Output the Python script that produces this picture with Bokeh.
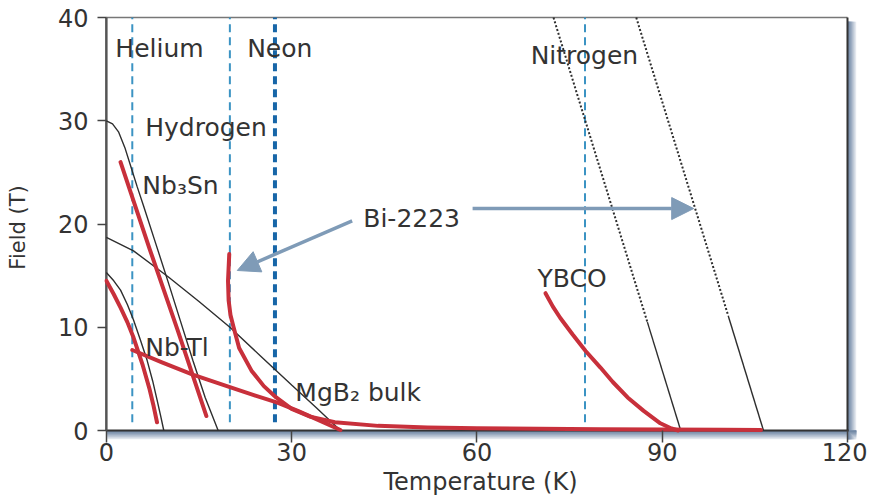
import math
from bokeh.plotting import figure
from bokeh.models import Range1d, Arrow, NormalHead, FixedTicker, Label
from bokeh.embed import file_html
from bokeh.resources import INLINE

# ---------------- data ----------------
X_TICKS = [0, 30, 60, 90, 120]
Y_TICKS = [0, 10, 20, 30, 40]
X_MIN, X_MAX = 0, 120
Y_MIN, Y_MAX = 0, 40

# cryogen boiling temperatures (K)
CRYO_NAMES = ["Helium", "Hydrogen", "Neon", "Nitrogen"]
CRYO_T = [4.2, 20.0, 27.3, 77.5]
CRYO_B_START = 0.8

# upper critical field (thin black)
nb3sn_hc2_T = [0, 1, 2, 3, 4, 5, 6, 8, 10, 12, 14, 16, 18.1]
nb3sn_hc2_B = [30, 29.7, 28.9, 27.4, 25.5, 23.6, 21.8, 18.1, 14.4, 10.6, 6.8, 3.2, 0]

nbti_hc2_T = [0, 1.2, 2.3, 3.4, 4.4, 5.5, 6.6, 7.5, 8.2, 8.8, 9.3]
nbti_hc2_B = [15.3, 14.5, 13.6, 12.2, 10.7, 8.8, 6.8, 4.8, 3.0, 1.4, 0]

mgb2_hc2_T = [0, 4.4, 10, 15, 20, 25, 30, 34, 37.9]
mgb2_hc2_B = [18.7, 17.4, 14.9, 12.5, 10.0, 7.2, 4.4, 2.2, 0]

ybco_hc2_dot_T = [72.4, 87.6]
ybco_hc2_dot_B = [40, 10.5]
ybco_hc2_T = [87.6, 93.0]
ybco_hc2_B = [10.5, 0]

bi_hc2_dot_T = [85.8, 100.7]
bi_hc2_dot_B = [40, 11.1]
bi_hc2_T = [100.7, 106.4]
bi_hc2_B = [11.1, 0]

# irreversibility field (thick red)
nb3sn_irr_T = [2.3, 7.0, 11.5, 16.2]
nb3sn_irr_B = [26.0, 17.6, 9.8, 1.4]

nbti_irr_T = [0, 1.2, 2.3, 3.4, 4.4, 5.9, 7.0, 7.6, 8.2]
nbti_irr_B = [14.5, 13.2, 11.9, 10.5, 9.0, 6.3, 4.0, 2.5, 0.8]

mgb2_irr_T = [4.2, 9, 14.1, 20, 24, 27.7, 31, 34, 37.9]
mgb2_irr_B = [7.8, 6.6, 5.4, 4.2, 3.4, 2.7, 1.9, 1.1, 0.05]

bi2223_irr_T = [19.9, 19.7, 19.8, 20.1, 20.6, 21.5, 23.5, 25.5, 27.5, 30, 33, 37, 44, 52, 60, 70, 80, 90, 100, 106]
bi2223_irr_B = [17.1, 14.5, 12.6, 11.2, 10.0, 8.0, 5.8, 4.3, 3.2, 2.1, 1.35, 0.8, 0.45, 0.3, 0.22, 0.16, 0.12, 0.1, 0.08, 0.06]

ybco_irr_T = [71.1, 72.3, 73.5, 75.5, 77.6, 80, 82, 84.4, 87, 89.7, 91.5, 92.6]
ybco_irr_B = [13.3, 12.0, 10.9, 9.3, 7.7, 6.1, 4.7, 3.2, 1.9, 0.7, 0.2, 0.0]

# annotation text anchors (left, baseline)
LABELS = ["Helium", "Neon", "Hydrogen", "Nitrogen", "Nb\u2083Sn", "Bi-2223", "YBCO", "Nb-Tl", "MgB\u2082 bulk"]
LABEL_T = [1.46, 22.8, 6.3, 68.7, 5.83, 41.6, 69.8, 6.3, 30.6]
LABEL_B = [37.0, 37.0, 29.35, 36.3, 23.7, 20.5, 14.7, 8.0, 3.7]

ARROW_LEFT = (39.8, 20.3, 21.2, 15.5)
ARROW_RIGHT = (59.3, 21.5, 95.1, 21.5)

X_LABEL = "Temperature (K)"
Y_LABEL = "Field (T)"

# ---------------- styles ----------------
FONT = "DejaVu Sans"
TXT = "#333333"
RED = "#c8303b"
BLK = "#2e2e2e"
LBLUE = "#3b93c3"
DBLUE = "#1766a8"
ARROW_C = "#7f9bb7"
SHADOW_STEPS = ["#6f86a3", "#7d92ad", "#8c9fb7", "#9dadc2", "#afbccd", "#c2ccd9", "#d6dde6", "#eaeef2"]

p = figure(width=867, height=499,
           x_range=Range1d(-0.3, 121.46), y_range=Range1d(-0.87, 40.2),
           min_border_left=104, min_border_right=11, min_border_top=15, min_border_bottom=60,
           output_backend="svg", toolbar_location=None)
p.outline_line_color = None
p.grid.visible = False
p.background_fill_color = "white"
p.border_fill_color = "white"

# axes
p.xaxis.ticker = FixedTicker(ticks=X_TICKS)
p.yaxis.ticker = FixedTicker(ticks=Y_TICKS)
for ax in (p.xaxis[0], p.yaxis[0]):
    ax.axis_line_color = None
    ax.minor_tick_line_color = None
    ax.major_tick_line_color = "#444444"
    ax.major_tick_line_width = 1.5
    ax.major_label_text_font = FONT
    ax.major_label_text_font_size = "24px"
    ax.major_label_text_color = TXT
    ax.axis_label_text_font = FONT
    ax.axis_label_text_font_style = "normal"
    ax.axis_label_text_color = TXT
p.xaxis.major_tick_in = 9
p.xaxis.major_tick_out = 3
p.xaxis.major_label_standoff = 0
p.yaxis.major_tick_in = 2
p.yaxis.major_tick_out = 7
p.yaxis.major_label_standoff = 9
p.xaxis.axis_label = X_LABEL
p.xaxis.axis_label_text_font_size = "24px"
p.xaxis.axis_label_standoff = 4
p.yaxis.axis_label = Y_LABEL
p.yaxis.axis_label_text_font_size = "21px"
p.yaxis.axis_label_standoff = 25

# shadow of frame (right and bottom), a soft gradient (drawn outermost first)
n = len(SHADOW_STEPS)
w = 1.46 / n
h = 0.87 / n
for i in reversed(range(n)):
    c = SHADOW_STEPS[i]
    p.quad(left=[X_MAX], right=[X_MAX + (i + 1) * w], bottom=[-0.87], top=[Y_MAX - 0.4],
           fill_color=c, line_color=None)
    p.quad(left=[X_MIN + 0.15], right=[X_MAX + 1.46], bottom=[-(i + 1) * h], top=[0],
           fill_color=c, line_color=None)

# frame lines
p.line([X_MIN, X_MAX], [Y_MAX, Y_MAX], line_color="#777777", line_width=1.5)
p.line([X_MAX, X_MAX], [Y_MIN, Y_MAX], line_color="#333333", line_width=2)
p.line([X_MIN, X_MAX + 0.2], [Y_MIN, Y_MIN], line_color="#333333", line_width=2)
p.line([X_MIN, X_MIN], [Y_MIN, Y_MAX], line_color="#555555", line_width=2.5)

# cryogen lines
for name, t in zip(CRYO_NAMES, CRYO_T):
    if name == "Neon":
        p.line([t, t], [CRYO_B_START, Y_MAX], line_color=DBLUE, line_width=4, line_dash="8 5")
    else:
        p.line([t, t], [CRYO_B_START, Y_MAX], line_color=LBLUE, line_width=2, line_dash="8 5")

# Hc2 thin black
for tx, by in [(nb3sn_hc2_T, nb3sn_hc2_B), (nbti_hc2_T, nbti_hc2_B), (mgb2_hc2_T, mgb2_hc2_B),
               (ybco_hc2_T, ybco_hc2_B), (bi_hc2_T, bi_hc2_B)]:
    p.line(tx, by, line_color=BLK, line_width=1.4)
for tx, by in [(ybco_hc2_dot_T, ybco_hc2_dot_B), (bi_hc2_dot_T, bi_hc2_dot_B)]:
    p.line(tx, by, line_color=BLK, line_width=2, line_dash="2 2")

# irreversibility thick red
for tx, by in [(nb3sn_irr_T, nb3sn_irr_B), (nbti_irr_T, nbti_irr_B), (mgb2_irr_T, mgb2_irr_B),
               (bi2223_irr_T, bi2223_irr_B), (ybco_irr_T, ybco_irr_B)]:
    p.line(tx, by, line_color=RED, line_width=4, line_cap="round", line_join="round")

# arrows
for (x0, y0, x1, y1) in (ARROW_LEFT, ARROW_RIGHT):
    p.add_layout(Arrow(end=NormalHead(size=22, fill_color=ARROW_C, line_color=ARROW_C),
                       x_start=x0, y_start=y0, x_end=x1, y_end=y1,
                       line_color=ARROW_C, line_width=3.5))

# labels
for txt, t, b in zip(LABELS, LABEL_T, LABEL_B):
    p.add_layout(Label(x=t, y=b, text=txt, text_font=FONT, text_font_size="25px",
                       text_color=TXT, text_align="left", text_baseline="alphabetic"))

open("out.html", "w").write(file_html(p, INLINE))
